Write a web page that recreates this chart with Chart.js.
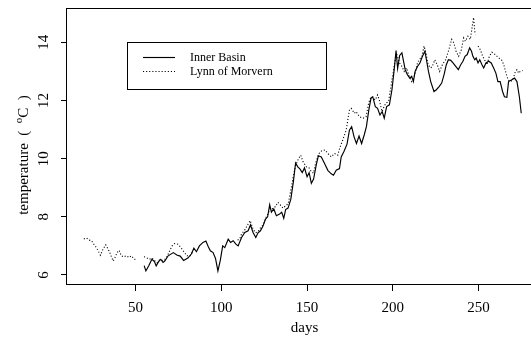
<!DOCTYPE html>
<html>
<head>
<meta charset="utf-8">
<style>
  html, body { margin: 0; padding: 0; background: #fff; overflow: hidden; }
  #wrap { width: 560px; height: 344px; }
</style>
<script src="https://cdn.jsdelivr.net/npm/chart.js@4"></script>
</head>
<body>
<div id="wrap"><canvas id="c" width="560" height="344"></canvas></div>
<script>
// Sea temperature records from two sites, by day of year
const seriesNames = ['Inner Basin', 'Lynn of Morvern'];

const innerBasinDays = [
  55, 56, 57.6, 59.5, 61, 62, 63.4, 64.7, 66, 67, 69, 72, 74, 76, 78, 80.5, 82.5, 84, 85.5, 87.2,
  89.3, 91, 92.4, 93.6, 95.2, 96.6, 98, 99.4, 100.8, 102, 104, 105.4, 106.9, 108.5, 109.8, 111.8,
  113.7, 115.6, 117, 118.5, 120.1, 121.4, 122.8, 124.3, 125.8, 127, 128.2, 129.2, 130.6, 132.1,
  134, 135.2, 136.4, 137.5, 138.9, 140.5, 142, 143.3, 144.6, 145.8, 147.2, 148.5, 150, 151.2,
  152.5, 153.8, 155.4, 156.6, 158.3, 160.2, 162.1, 164.1, 165.4, 167, 168.9, 169.9, 171.5, 173.3,
  174.7, 176, 177.4, 178.8, 180.3, 181.8, 183.4, 184.6, 186, 187.3, 188.3, 189.8, 191.1, 192.5,
  193.8, 195, 196.4, 198, 199.5, 200.8, 201.9, 202.8, 204, 205.3, 206.1, 207.2, 208.5, 209.9,
  211, 212, 213, 214.4, 215.8, 217.3, 218.7, 219.6, 220.8, 222.1, 224, 225.4, 227, 228.5, 229.9,
  231.2, 232.4, 233.8, 235.1, 236.7, 238.2, 239.6, 240.9, 242.1, 243.4, 244.8, 245.9, 246.7,
  247.8, 248.6, 249.7, 250.7, 252, 253, 254.3, 255.9, 257.4, 258.8, 260.1, 261.3, 262.6, 264,
  265.1, 266.5, 267.5, 269.4, 271, 272.4, 273.8, 274.9
];
const innerBasinTemps = [
  6.32, 6.14, 6.31, 6.54, 6.46, 6.31, 6.46, 6.54, 6.43, 6.48, 6.66, 6.77, 6.69, 6.65, 6.5, 6.58, 6.72, 6.92, 6.8, 7.0,
  7.12, 7.17, 6.97, 6.83, 6.77, 6.57, 6.14, 6.5, 7.0, 6.94, 7.23, 7.12, 7.18, 7.06, 7.0, 7.29,
  7.46, 7.52, 7.72, 7.46, 7.29, 7.45, 7.52, 7.68, 7.92, 8.0, 8.42, 8.16, 8.27, 8.04,
  8.1, 8.16, 7.95, 8.25, 8.3, 8.6, 9.2, 9.85, 9.72, 9.65, 9.52, 9.68, 9.38, 9.52,
  9.15, 9.3, 9.8, 10.1, 10.06, 9.83, 9.6, 9.48, 9.43, 9.6, 9.66, 10.06, 10.25, 10.5,
  10.98, 11.1, 10.75, 10.52, 10.78, 10.52, 10.83, 11.1, 11.67, 12.08, 12.13, 11.79, 11.73, 11.5,
  11.62, 11.39, 11.79, 11.85, 12.37, 13.06, 13.72, 13.1, 13.55, 13.64, 13.4, 13.06, 12.89, 12.77,
  12.83, 12.65, 13.0, 13.17, 13.29, 13.52, 13.69, 13.4, 13.0, 12.65, 12.31, 12.37, 12.48, 12.6, 12.89,
  13.23, 13.4, 13.38, 13.29, 13.17, 13.06, 13.23, 13.35, 13.52, 13.58, 13.81, 13.69, 13.52,
  13.4, 13.46, 13.29, 13.4, 13.23, 13.12, 13.29, 13.35, 13.29, 13.12, 12.94, 12.65, 12.65, 12.31,
  12.13, 12.11, 12.65, 12.71, 12.77, 12.65, 12.13, 11.56
];

// null marks days without a reading (the line is broken there)
const lynnDays = [
  19.8, 21.4, 22.9, 24.3, 25.6, 27.2, 28.7, 29.5, 31, 32.6, 34, 35.3, 36.9, 38, 39.2, 40.4, 41.7,
  43, 44.6, 46.2, 47.5, 48.5, 49.4, 50.8, 52.8, 54.9, 56.2, 58, 59.6, 61, 62.5, 64, 65.5, 67, 68.5,
  70, 71.3, 72.7, 74.6, 76.5, 78.5, 80, 81.8, 83.7, 96, 109.5, 110.8, 111.8, 113.7, 115.6, 116.8,
  118.5, 120, 121.5, 122.8, 124.3, 125.8, 127.2, 128.5, 130, 131.5, 133, 134.5, 136, 137.5, 139,
  140.5, 142, 143.5, 145, 146.3, 147.6, 149.6, 151, 152.5, 153.8, 155, 156.5, 157.5, 159, 160.5,
  162.1, 164.1, 166, 167.9, 169.3, 170.8, 172.8, 174.7, 175.7, 177.6, 178.6, 180.5, 182.5, 184.4,
  185.9, 187.3, 188.2, 189.8, 191.1, 192.1, 193.7, 195, 196, 197.5, 198.9, 200.8, 202.1, 203.8,
  205.3, 206.6, 208, 209.5, 211, 212.5, 214.4, 215.4, 217, 218.2, 219.3, 220.6, 222, 223, 224.5,
  225.9, 227.3, 228.9, 230.8, 232.7, 234.3, 235.6, 236.9, 238.4, 240, 241.3, 242.3, 243.8, 245.2,
  246.2, 247.1, 247.7, 248.1, 248.9, 249.7, 251, 252.4, 253.5, 254.9, 256.3, 257.8, 259.7, 261.8,
  263.4, 264.7, 266, 267.2, 268.6, 270, 271.5, 272.4, 273.4, 274.3, 275.7
];
const lynnTemps = [
  7.24, 7.27, 7.2, 7.18, 7.06, 6.94, 6.77, 6.68, 6.89, 7.04, 6.89, 6.72, 6.48, 6.6, 6.77, 6.85, 6.66,
  6.62, 6.66, 6.6, 6.66, 6.6, 6.54, 6.54, null, 6.63, 6.6, 6.54, 6.58, 6.5, 6.42, 6.52, 6.5, 6.53, 6.65,
  6.85, 7.0, 7.08, 7.06, 6.94, 6.77, 6.66, 6.66, 6.83, null, 7.2, 7.25, 7.41, 7.55, 7.75, 7.87,
  7.58, 7.45, 7.5, 7.62, 7.72, 7.95, 8.1, 8.3, 8.28, 8.35, 8.5, 8.4, 8.3, 8.38, 8.45,
  8.9, 9.4, 9.8, 10.0, 10.12, 9.9, 9.72, 9.7, 9.55, 9.5, 9.85, 10.12, 10.23, 10.28, 10.3,
  10.18, 10.06, 10.18, 10.12, 10.41, 10.64, 10.98, 11.67, 11.73, 11.56, 11.62, 11.44, 11.39, 11.44,
  11.91, 12.13, 12.08, 12.02, 12.19, 12.02, 11.62, 11.8, 11.91, 11.96, 12.48, 13.17, 13.63, 13.3,
  13.17, 13.0, 13.12, 12.83, 12.65, 12.83, 13.29, 13.4, 13.52, 13.87, 13.64, 13.23, 13.12, 13.17, 13.4,
  13.23, 13.0, 13.23, 13.4, 13.75, 14.1, 13.98, 13.69, 13.52, 13.75, 14.15, 14.04, 14.21, 14.1,
  14.5, 14.85, 14.44, 14.27, null, 13.87, 13.75, 13.52, 13.4, 13.23, 13.52, 13.66, 13.58, 13.46,
  13.4, 13.23, 12.94, 12.71, 12.65, 12.71, 13.0, 13.06, 12.94, 13.0, 13.03
];

const xTicks = [50, 100, 150, 200, 250];
const yTicks = [6, 8, 10, 12, 14];

// axis title pieces: main text, superscript degree mark, unit
const yTitleParts = ['temperature  (  ', 'o', 'C  )'];
const xTitle = 'days';

const FONT = '"Liberation Serif", "Times New Roman", serif';

function toPoints(days, temps) {
  return days.map((d, i) => ({ x: d, y: temps[i] }));
}

// plot frame (left, top and bottom edges; the right edge sits past the visible page)
const framePlugin = {
  id: 'frame',
  afterDatasetsDraw(chart) {
    const { ctx, chartArea: a } = chart;
    ctx.save();
    ctx.strokeStyle = '#000';
    ctx.lineWidth = 1;
    ctx.strokeRect(Math.round(a.left) - 0.5, Math.round(a.top) + 0.5,
                   Math.round(a.right - a.left) + 1, Math.round(a.bottom - a.top) - 1);
    ctx.restore();
  }
};

// y tick labels written parallel to the axis, plus the rotated y title with a raised "o"
const yTextPlugin = {
  id: 'yText',
  afterDraw(chart) {
    const s = chart.scales.y, a = chart.chartArea, ctx = chart.ctx;
    ctx.save();
    ctx.fillStyle = '#000';
    ctx.font = '15px ' + FONT;
    ctx.textAlign = 'center';
    ctx.textBaseline = 'alphabetic';
    s.ticks.forEach(t => {
      const y = s.getPixelForValue(t.value);
      ctx.save();
      ctx.translate(s.right - 19.5, y);
      ctx.rotate(-Math.PI / 2);
      ctx.fillText(String(t.value), 0, 0);
      ctx.restore();
    });

    const big = '15px ' + FONT, small = '11px ' + FONT;
    ctx.font = big;
    const w0 = ctx.measureText(yTitleParts[0]).width;
    const w2 = ctx.measureText(yTitleParts[2]).width;
    ctx.font = small;
    const w1 = ctx.measureText(yTitleParts[1]).width;
    const total = w0 + w1 + w2;
    const mid = (a.top + a.bottom) / 2 + 8.5;
    ctx.translate(28, mid + total / 2);
    ctx.rotate(-Math.PI / 2);
    ctx.textAlign = 'left';
    ctx.font = big;
    ctx.fillText(yTitleParts[0], 0, 0);
    ctx.font = small;
    ctx.fillText(yTitleParts[1], w0, -6);
    ctx.font = big;
    ctx.fillText(yTitleParts[2], w0 + w1, 0);
    ctx.restore();
  }
};

// boxed legend inside the plot
const legendPlugin = {
  id: 'boxLegend',
  afterDraw(chart) {
    const { ctx, chartArea: a } = chart;
    const x0 = a.left + 60, y0 = a.top + 34, w = 199, h = 47;
    ctx.save();
    ctx.strokeStyle = '#000';
    ctx.lineWidth = 1;
    ctx.strokeRect(Math.round(x0) + 0.5, Math.round(y0) + 0.5, w, h);
    ctx.font = '12px ' + FONT;
    ctx.fillStyle = '#000';
    ctx.textBaseline = 'middle';
    ctx.textAlign = 'left';
    chart.data.datasets.forEach((ds, i) => {
      const y = Math.round(y0 + 14.5 + i * 14.3) + 0.5;
      ctx.beginPath();
      ctx.setLineDash(ds.borderDash || []);
      ctx.lineWidth = ds.borderWidth;
      ctx.strokeStyle = ds.borderColor;
      ctx.moveTo(x0 + 16, y);
      ctx.lineTo(x0 + 48, y);
      ctx.stroke();
      ctx.setLineDash([]);
      ctx.fillText(ds.label, x0 + 63, y);
    });
    ctx.restore();
  }
};

new Chart(document.getElementById('c'), {
  type: 'line',
  data: {
    datasets: [
      {
        label: seriesNames[0],
        data: toPoints(innerBasinDays, innerBasinTemps),
        borderColor: '#000',
        borderWidth: 1.15,
        spanGaps: false
      },
      {
        label: seriesNames[1],
        data: toPoints(lynnDays, lynnTemps),
        borderColor: '#000',
        borderWidth: 1.1,
        borderDash: [1.1, 2],
        spanGaps: false
      }
    ]
  },
  options: {
    responsive: false,
    animation: false,
    devicePixelRatio: 1,
    layout: { padding: { left: 0, right: 18, top: 8, bottom: 0 } },
    elements: { point: { radius: 0 }, line: { tension: 0 } },
    plugins: { legend: { display: false }, tooltip: { enabled: false } },
    scales: {
      x: {
        type: 'linear',
        min: 10,
        max: 287,
        afterBuildTicks: s => { s.ticks = xTicks.map(v => ({ value: v })); },
        afterFit: s => { s.height = 59; },
        grid: { display: true, drawOnChartArea: false, drawTicks: true, tickLength: 6, color: '#000', lineWidth: 1 },
        border: { display: false },
        ticks: { font: { family: FONT, size: 15 }, color: '#000', padding: 8, maxRotation: 0, autoSkip: false },
        title: { display: true, text: xTitle, color: '#000', font: { family: FONT, size: 15 }, padding: { top: 0, bottom: 7 } }
      },
      y: {
        type: 'linear',
        min: 5.656,
        max: 15.18,
        afterBuildTicks: s => { s.ticks = yTicks.map(v => ({ value: v })); },
        afterFit: s => { s.width = 67; },
        grid: { display: true, drawOnChartArea: false, drawTicks: true, tickLength: 6, color: '#000', lineWidth: 1 },
        border: { display: false },
        ticks: { display: false },
        title: { display: false }
      }
    }
  },
  plugins: [framePlugin, yTextPlugin, legendPlugin]
});
</script>
</body>
</html>
